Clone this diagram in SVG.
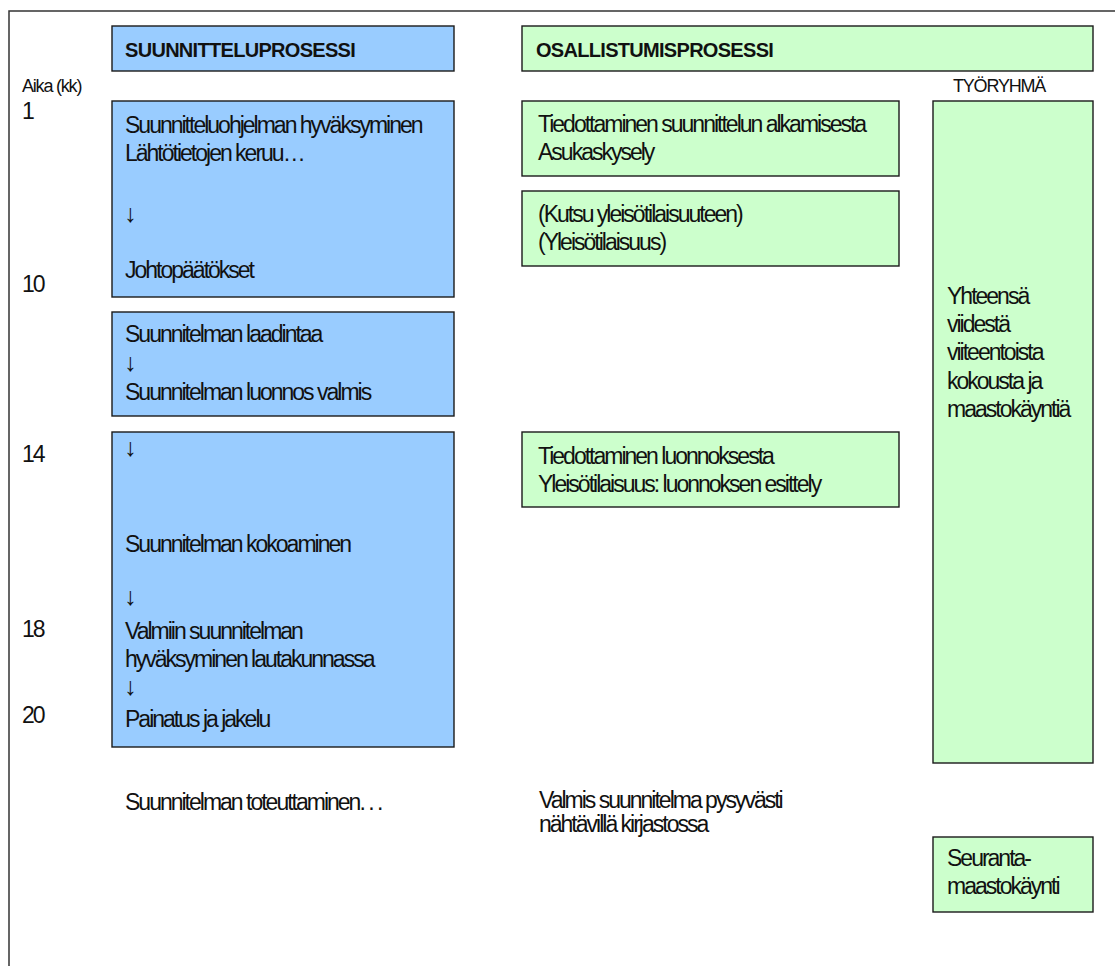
<svg xmlns="http://www.w3.org/2000/svg" width="1115" height="966" viewBox="0 0 1115 966">
<style>
text{font-family:"Liberation Sans",Arial,sans-serif;fill:#111}
.t{font-size:23px;letter-spacing:-2px}
.a{font-size:25px}
.h{font-size:20px;font-weight:bold;letter-spacing:-0.7px}
.s{font-size:18px;letter-spacing:-1.2px}
.blue{fill:#99CCFF;stroke:#1a1a1a;stroke-width:1.4}
.green{fill:#CCFFCC;stroke:#1a1a1a;stroke-width:1.4}
.frame{fill:none;stroke:#333;stroke-width:1.5}
</style>
<g id="frame"><polyline class="frame" points="9,966 9,11 1115,11"/></g>
<g id="axis">
<text class="s" x="22" y="92">Aika (kk)</text>
<text class="t" x="22" y="119">1</text>
<text class="t" x="22" y="292">10</text>
<text class="t" x="22" y="462">14</text>
<text class="t" x="22" y="637">18</text>
<text class="t" x="22" y="723">20</text>
</g>
<g id="head-suunnittelu"><rect class="blue" x="112" y="26" width="342" height="45"/><text class="h" x="125" y="57">SUUNNITTELUPROSESSI</text></g>
<g id="head-osallistumis"><rect class="green" x="522" y="26" width="571" height="45"/><text class="h" x="536" y="57">OSALLISTUMISPROSESSI</text></g>
<g id="label-tyoryhma"><text class="s" x="953" y="92">TYÖRYHMÄ</text></g>
<g id="blue1"><rect class="blue" x="112" y="101" width="342" height="196"/>
<text class="t" x="125" y="133">Suunnitteluohjelman hyväksyminen</text>
<text class="t" x="125" y="161">Lähtötietojen keruu…</text>
<text class="a" x="124" y="222">↓</text>
<text class="t" x="125" y="278">Johtopäätökset</text></g>
<g id="blue2"><rect class="blue" x="112" y="312" width="342" height="104"/>
<text class="t" x="125" y="342">Suunnitelman laadintaa</text>
<text class="a" x="124" y="371">↓</text>
<text class="t" x="125" y="400">Suunnitelman luonnos valmis</text></g>
<g id="blue3"><rect class="blue" x="112" y="432" width="342" height="315"/>
<text class="a" x="124" y="456">↓</text>
<text class="t" x="125" y="552">Suunnitelman kokoaminen</text>
<text class="a" x="124" y="605">↓</text>
<text class="t" x="125" y="639">Valmiin suunnitelman</text>
<text class="t" x="125" y="667">hyväksyminen lautakunnassa</text>
<text class="a" x="124" y="695">↓</text>
<text class="t" x="125" y="727">Painatus ja jakelu</text></g>
<g id="green1"><rect class="green" x="522" y="101" width="377" height="75"/>
<text class="t" x="538" y="132">Tiedottaminen suunnittelun alkamisesta</text>
<text class="t" x="538" y="160">Asukaskysely</text></g>
<g id="green2"><rect class="green" x="522" y="191" width="377" height="75"/>
<text class="t" x="538" y="222">(Kutsu yleisötilaisuuteen)</text>
<text class="t" x="538" y="250">(Yleisötilaisuus)</text></g>
<g id="green3"><rect class="green" x="522" y="432" width="377" height="75"/>
<text class="t" x="538" y="464">Tiedottaminen luonnoksesta</text>
<text class="t" x="538" y="492">Yleisötilaisuus: luonnoksen esittely</text></g>
<g id="tyoryhma"><rect class="green" x="933" y="101" width="160" height="662"/>
<text class="t" x="947" y="304">Yhteensä</text>
<text class="t" x="947" y="332">viidestä</text>
<text class="t" x="947" y="360">viiteentoista</text>
<text class="t" x="947" y="389">kokousta ja</text>
<text class="t" x="947" y="417">maastokäyntiä</text></g>
<g id="seuranta"><rect class="green" x="933" y="837" width="160" height="75"/>
<text class="t" x="947" y="866">Seuranta-</text>
<text class="t" x="947" y="894">maastokäynti</text></g>
<g id="toteuttaminen"><text class="t" x="125" y="810">Suunnitelman toteuttaminen. . .</text></g>
<g id="kirjasto"><text class="t" x="539" y="808">Valmis suunnitelma pysyvästi</text>
<text class="t" x="539" y="832">nähtävillä kirjastossa</text></g>
<g id="connectors"/>
</svg>
